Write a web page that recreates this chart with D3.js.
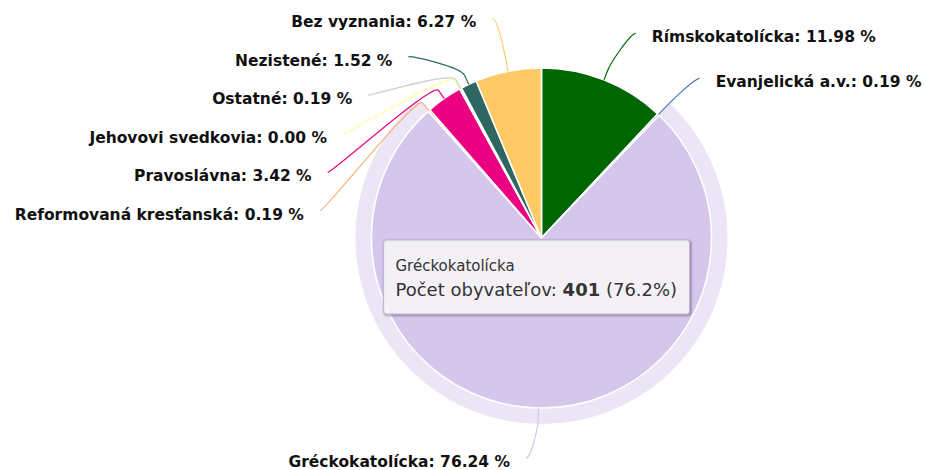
<!DOCTYPE html>
<html>
<head>
<meta charset="utf-8">
<script src="https://cdn.jsdelivr.net/npm/d3@7"></script>
<style>
    body { margin: 0; background: #fff; }
    svg { display: block; }
    .label { font-family: "DejaVu Sans", sans-serif; font-weight: bold; font-size: 15.5px; fill: #111; }
    .tip { font-family: "DejaVu Sans", sans-serif; fill: #333; }
</style>
</head>
<body>
<script>
const religions = ['Rímskokatolícka', 'Evanjelická a.v.', 'Gréckokatolícka', 'Reformovaná kresťanská',
    'Pravoslávna', 'Jehovovi svedkovia', 'Ostatné', 'Nezistené', 'Bez vyznania']
const counts = [63, 1, 401, 1, 18, 0, 1, 8, 33]
const colors = ['#006600', '#4a72b8', '#d5c6ec', '#f7b27a', '#ea0080', '#ffff99', '#cccccc', '#2e6661', '#ffc966']
const hovered = 2
const tipTitle = 'Počet obyvateľov'

const width = 934
const height = 470
const cx = 541.5
const cy = 238
const radius = 170
const haloSize = 16
const labelDist = 50      // natural label distance
const labelX = 53         // distance used for x placement
const gap = 38.6
const total = d3.sum(counts)

const data = religions.map((name, i) => ({
    name: name,
    value: counts[i],
    color: colors[i],
    pct: counts[i] / total * 100
}))

const svg = d3.select('body')
    .append('svg')
    .attr('width', width)
    .attr('height', height)

const g = svg.append('g').attr('transform', `translate(${cx}, ${cy})`)

const pie = d3.pie().sort(null).value(d => d.value)
const arcs = pie(data)
const arc = d3.arc().innerRadius(0).outerRadius(radius)

// halo behind hovered slice
const h = arcs[hovered]
g.append('path')
    .attr('d', d3.arc().innerRadius(0).outerRadius(radius + haloSize)(h))
    .attr('fill', h.data.color)
    .attr('opacity', 0.45)

g.selectAll('path.slice')
    .data(arcs)
    .enter()
    .append('path')
    .attr('class', 'slice')
    .attr('d', arc)
    .attr('fill', d => d.data.color)
    .attr('stroke', '#fff')
    .attr('stroke-width', 1.5)
    .attr('stroke-linejoin', 'round')

// label placement, roughly like Highcharts does it
const labels = arcs.map(d => {
    const a = (d.startAngle + d.endAngle) / 2
    return {
        d: d,
        a: a,
        left: a > Math.PI,
        ny: -Math.cos(a) * (radius + labelDist)
    }
})

function distribute(items, minY, maxY) {
    items.sort((p, q) => p.ny - q.ny)
    let groups = items.map(it => ({ items: [it] }))
    const place = grp => {
        const n = grp.items.length
        let s = d3.mean(grp.items, (it, i) => it.ny - i * gap)
        s = Math.max(minY, Math.min(maxY - (n - 1) * gap, s))
        grp.start = s
    }
    groups.forEach(place)
    let merged = true
    while (merged) {
        merged = false
        for (let i = 1; i < groups.length; i++) {
            const prev = groups[i - 1]
            const end = prev.start + (prev.items.length - 1) * gap
            if (end + gap > groups[i].start) {
                prev.items = prev.items.concat(groups[i].items)
                groups.splice(i, 1)
                place(prev)
                merged = true
                break
            }
        }
    }
    groups.forEach(grp => grp.items.forEach((it, i) => { it.y = grp.start + i * gap }))
}

distribute(labels.filter(l => l.left), 18 - cy, 458 - cy)
distribute(labels.filter(l => !l.left), 18 - cy, 458 - cy)

const R = radius + labelX
labels.forEach(l => {
    const dy = l.y + 2.5
    const dx = Math.sqrt(Math.max(0, R * R - dy * dy))
    l.x = l.left ? -dx : dx
    l.tx = l.x + (l.left ? -16 : 16)
    const t = { x: Math.sin(l.a) * radius, y: -Math.cos(l.a) * radius }
    const b = { x: Math.sin(l.a) * (radius + 10), y: -Math.cos(l.a) * (radius + 10) }
    const c1 = l.x + (l.left ? 5 : -5)
    l.path = `M${l.x},${l.y}C${c1},${l.y} ${2 * b.x - t.x},${2 * b.y - t.y} ${b.x},${b.y}L${t.x},${t.y}`
})

g.selectAll('path.conn')
    .data(labels)
    .enter()
    .append('path')
    .attr('class', 'conn')
    .attr('d', l => l.path)
    .attr('fill', 'none')
    .attr('stroke', l => l.d.data.color)
    .attr('stroke-width', 1.2)

g.selectAll('text.label')
    .data(labels)
    .enter()
    .append('text')
    .attr('class', 'label')
    .attr('x', l => l.tx)
    .attr('y', l => l.y + 9)
    .attr('text-anchor', l => l.left ? 'end' : 'start')
    .text(l => `${l.d.data.name}: ${l.d.data.pct.toFixed(2)} %`)

// tooltip for hovered slice
const tip = svg.append('g').attr('transform', `translate(${cx - 158}, ${cy + 2})`)
const tipW = 306
const tipH = 74
for (let i = 1; i <= 3; i++) {
    tip.append('rect')
        .attr('x', 1).attr('y', 1)
        .attr('width', tipW).attr('height', tipH)
        .attr('rx', 3)
        .attr('fill', 'none')
        .attr('stroke', '#000')
        .attr('stroke-opacity', 0.05 * i)
        .attr('stroke-width', 7 - 2 * i)
}
tip.append('rect')
    .attr('width', tipW).attr('height', tipH)
    .attr('rx', 3)
    .attr('fill', 'rgba(247,247,247,0.88)')
    .attr('stroke', '#c4b8d6')
    .attr('stroke-width', 1)

tip.append('text')
    .attr('class', 'tip')
    .attr('x', 12).attr('y', 31)
    .style('font-size', '15px')
    .text(h.data.name)

const line2 = tip.append('text')
    .attr('class', 'tip')
    .attr('x', 12).attr('y', 56)
    .style('font-size', '18px')
line2.append('tspan').text(tipTitle + ': ')
line2.append('tspan').style('font-weight', 'bold').text(h.data.value)
line2.append('tspan').text(` (${h.data.pct.toFixed(1)}%)`)
</script>
</body>
</html>
